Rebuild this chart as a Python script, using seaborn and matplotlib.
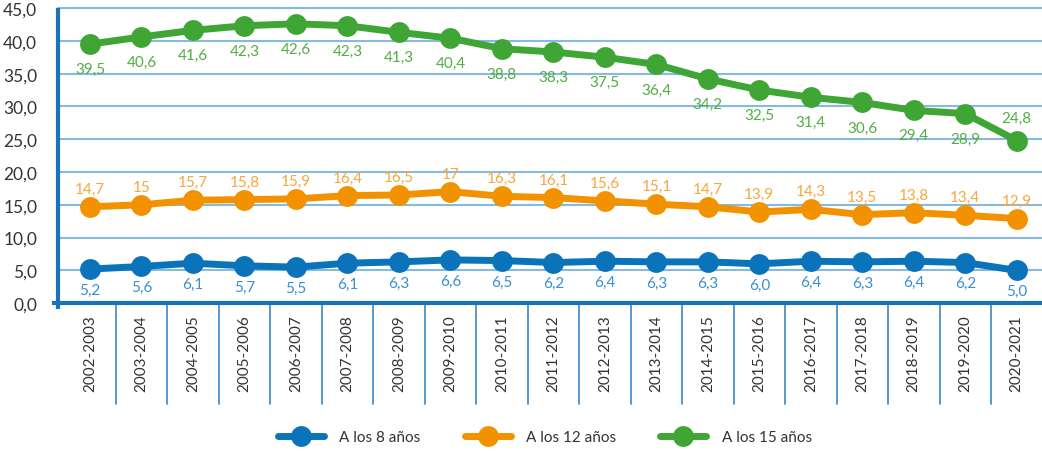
import pandas as pd
import numpy as np
import matplotlib.pyplot as plt
import seaborn as sns
from matplotlib.lines import Line2D

# --- datos ---
periodos = ["2002-2003", "2003-2004", "2004-2005", "2005-2006", "2006-2007",
            "2007-2008", "2008-2009", "2009-2010", "2010-2011", "2011-2012",
            "2012-2013", "2013-2014", "2014-2015", "2015-2016", "2016-2017",
            "2017-2018", "2018-2019", "2019-2020", "2020-2021"]
a_los_8 = [5.2, 5.6, 6.1, 5.7, 5.5, 6.1, 6.3, 6.6, 6.5, 6.2,
           6.4, 6.3, 6.3, 6.0, 6.4, 6.3, 6.4, 6.2, 5.0]
a_los_12 = [14.7, 15, 15.7, 15.8, 15.9, 16.4, 16.5, 17, 16.3, 16.1,
            15.6, 15.1, 14.7, 13.9, 14.3, 13.5, 13.8, 13.4, 12.9]
a_los_15 = [39.5, 40.6, 41.6, 42.3, 42.6, 42.3, 41.3, 40.4, 38.8, 38.3,
            37.5, 36.4, 34.2, 32.5, 31.4, 30.6, 29.4, 28.9, 24.8]
series = ["A los 8 años", "A los 12 años", "A los 15 años"]

colores = {"A los 8 años": "#0B73BA", "A los 12 años": "#F39200", "A los 15 años": "#3FA535"}
colores_etiqueta = {"A los 8 años": "#3A8FCF", "A los 12 años": "#F6A83C", "A los 15 años": "#52AD43"}

df = pd.DataFrame({
    "pos": list(range(len(periodos))) * 3,
    "valor": a_los_8 + a_los_12 + a_los_15,
    "serie": [s for s in series for _ in periodos],
})

sns.set_theme(style="white")
plt.rcParams["font.family"] = ["Lato", "DejaVu Sans"]

fig = plt.figure(figsize=(10.42, 4.52), dpi=100)
ax = fig.add_axes([0.0557, 0.327, 0.9443, 0.653])

AZUL_EJE = "#1A73B9"
AZUL_GRID = "#86BAE0"

for y in np.arange(5, 46, 5):
    ax.axhline(y, color=AZUL_GRID, lw=1.5, zorder=0)

sns.lineplot(data=df, x="pos", y="valor", hue="serie", palette=colores,
             marker="o", markersize=15, markeredgewidth=0, linewidth=5,
             legend=False, ax=ax, zorder=3)
for l in ax.lines:
    l.set_clip_on(False)

# etiquetas de datos
for s, vals in zip(series, [a_los_8, a_los_12, a_los_15]):
    for i, v in enumerate(vals):
        if s == "A los 12 años":
            txt = f"{v:g}".replace(".", ",")
            dy = 13
        else:
            txt = f"{v:.1f}".replace(".", ",")
            dy = -15 if s == "A los 8 años" else -18
        if s == "A los 15 años" and i == len(vals) - 1:
            dy = 16
        ax.annotate(txt, (i, v), xytext=(0, dy), textcoords="offset points",
                    ha="center", va="center", fontsize=11,
                    color=colores_etiqueta[s], zorder=4)

ax.set_xlim(-0.62, 18.49)
ax.set_ylim(0, 45)
ax.set_yticks(np.arange(0, 46, 5))
ax.set_yticklabels([f"{v:.1f}".replace(".", ",") for v in np.arange(0, 46, 5)],
                   fontsize=12.5, color="#333333")
ax.set_xticks(range(len(periodos)))
ax.set_xticklabels(periodos, rotation=90, fontsize=11, color="#333333", va="top")
ax.tick_params(axis="both", length=0)
ax.tick_params(axis="y", pad=15)
ax.tick_params(axis="x", pad=8)
ax.set_xlabel("")
ax.set_ylabel("")

for lado in ["top", "right", "left", "bottom"]:
    ax.spines[lado].set_visible(False)

# ejes gruesos y divisiones de la tabla de periodos
ax.plot([0, 0], [-0.02, 1.0], transform=ax.transAxes, color=AZUL_EJE, lw=3,
        clip_on=False, zorder=5, solid_capstyle="butt")
ax.plot([-0.006, 1.0], [0, 0], transform=ax.transAxes, color=AZUL_EJE, lw=3,
        clip_on=False, zorder=5, solid_capstyle="butt")
for k in range(1, len(periodos)):
    ax.plot([k - 0.5, k - 0.5], [0, -0.34], transform=ax.get_xaxis_transform(),
            color="#4A90C8", lw=1.3, clip_on=False, zorder=1)

handles = [Line2D([0], [0], color=colores[s], lw=5, marker="o", markersize=15,
                  markeredgewidth=0) for s in series]
fig.legend(handles, series, loc="center", bbox_to_anchor=(0.523, 0.031), ncol=3,
           frameon=False, fontsize=11, handlelength=3.0, columnspacing=2.9,
           handletextpad=1.0, labelcolor="#333333")

plt.savefig("out.png", dpi=100)
